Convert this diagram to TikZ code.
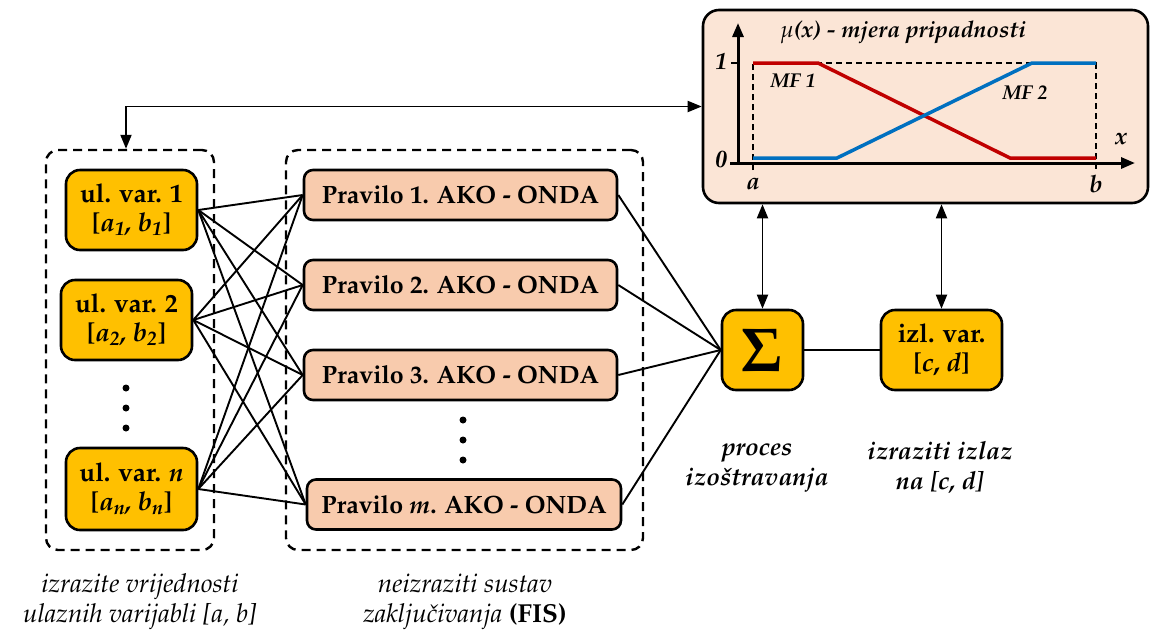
\documentclass[tikz,border=0pt]{standalone}
\usepackage[T1]{fontenc}
\usepackage{mathpazo}
\usetikzlibrary{arrows.meta}
\definecolor{gold}{HTML}{FFC000}
\definecolor{peach}{HTML}{F8CBAD}
\definecolor{lightpeach}{HTML}{FBE5D6}
\definecolor{mfred}{HTML}{C00000}
\definecolor{mfblue}{HTML}{0070C0}
\tikzset{
  dtip/.style={{Triangle[length=14pt,width=11pt]}-{Triangle[length=14pt,width=11pt]}},
  invar/.style={draw, line width=2.6pt, rounded corners=14pt, fill=gold, align=center,
    inner sep=0pt, font=\fontsize{26}{31}\selectfont\bfseries},
  rulebox/.style={draw, line width=2.6pt, rounded corners=9pt, fill=peach, inner sep=0pt,
    minimum height=50pt, font=\fontsize{25}{30}\selectfont\bfseries},
  group/.style={draw, line width=2.4pt, dash pattern=on 9pt off 6pt, rounded corners=12pt, inner sep=0pt},
  conn/.style={line width=1.9pt},
  lbl/.style={align=center, font=\fontsize{26}{30}\selectfont\itshape},
  blbl/.style={align=center, font=\fontsize{25}{30}\selectfont\bfseries\itshape},
  dot/.style={circle, fill=black, inner sep=0pt, minimum size=7pt},
  plt/.style={font=\fontsize{24}{28}\selectfont\bfseries\itshape},
}
\begin{document}
\begin{tikzpicture}[x=1pt,y=-1pt]
\useasboundingbox (0,0) rectangle (1152,633);
% groups
\node[group, minimum width=168pt, minimum height=400pt] (lbox) at (130,350) {};
\node[group, minimum width=357pt, minimum height=400pt] (mbox) at (464.5,350) {};
% membership box
\node[draw, line width=2.6pt, rounded corners=16pt, fill=lightpeach, minimum width=445pt, minimum height=193pt, inner sep=0pt] (mfbox) at (925.5,106.5) {};
% inputs
\node[invar, minimum width=131pt, minimum height=80pt] (in1) at (131.5,210) {ul. var. 1\\[-2pt]{[}\textit{a\textsubscript{1}, b\textsubscript{1}}{]}};
\node[invar, minimum width=131pt, minimum height=80pt] (in2) at (126.5,320) {ul. var. 2\\[-2pt]{[}\textit{a\textsubscript{2}, b\textsubscript{2}}{]}};
\node[invar, minimum width=131pt, minimum height=82pt] (inn) at (131.5,489) {ul. var. \textit{n}\\[-2pt]{[}\textit{a\textsubscript{n}, b\textsubscript{n}}{]}};
\node[dot] (ld1) at (126,388) {};
\node[dot] (ld2) at (126,408) {};
\node[dot] (ld3) at (126,428) {};
% rules
\node[rulebox, minimum width=313pt] (r1) at (460.5,195) {Pravilo 1. AKO - ONDA};
\node[rulebox, minimum width=313pt] (r2) at (460.5,285) {Pravilo 2. AKO - ONDA};
\node[rulebox, minimum width=313pt] (r3) at (460.5,375) {Pravilo 3. AKO - ONDA};
\node[rulebox, minimum width=314pt] (r4) at (464,504.5) {Pravilo \textit{m}. AKO - ONDA};
\node[dot] (md1) at (463,420) {};
\node[dot] (md2) at (463,440) {};
\node[dot] (md3) at (463,460) {};
% sum and output
\node[invar, minimum width=81pt, minimum height=80pt, font=\fontsize{62}{62}\selectfont] (sum) at (762.5,350) {$\mathbf{\Sigma}$};
\node[invar, minimum width=121pt, minimum height=80pt] (out) at (941.5,350) {izl. var.\\[-2pt]{[}\textit{c}, \textit{d}{]}};
% connections
\foreach \i in {in1,in2,inn}{
  \foreach \r in {r1,r2,r3,r4}{
    \draw[conn] (\i.east) -- (\r.west);
  }
}
\foreach \r in {r1,r2,r3,r4}{
  \draw[conn] (\r.east) -- (sum.west);
}
\draw[conn] (sum.east) -- (out.west);
\draw[conn, dtip] (sum.north) -- (sum.north |- mfbox.south);
\draw[conn, dtip] (out.north) -- (out.north |- mfbox.south);
\draw[conn, dtip] ([xshift=-4pt]lbox.north) |- (mfbox.west);
% membership plot
\coordinate (o) at (738,163);
\coordinate (ytop) at (738,23);
\coordinate (xstart) at (730,163);
\coordinate (xend) at (1135,163);
\draw[line width=1.3pt, dash pattern=on 6pt off 4pt] (753,170) -- (753,63) -- (1096,63) -- (1096,170);
\draw[line width=3pt, -{Triangle[length=14pt,width=11pt]}] (o) -- (ytop);
\draw[line width=3pt, -{Triangle[length=14pt,width=11pt]}] (xstart) -- (xend);
\draw[line width=2pt] (731,63) -- (738,63);
\draw[line width=3.5pt, mfred] (753,63) -- (818,63) -- (1010,158) -- (1096,158);
\draw[line width=3.5pt, mfblue] (753,158) -- (837,158) -- (1032,63) -- (1096,63);
\node[plt] (t1) at (721,62) {1};
\node[plt] (t0) at (721,160) {0};
\node[plt] (ta) at (753,184) {a};
\node[plt] (tb) at (1096,184) {b};
\node[plt] (tx) at (1121,139) {x};
\node[font=\fontsize{20}{24}\selectfont\bfseries\itshape] (mf1) at (793,81) {MF 1};
\node[font=\fontsize{20}{24}\selectfont\bfseries\itshape] (mf2) at (1025,93) {MF 2};
\node[font=\fontsize{23}{28}\selectfont\bfseries\itshape] (title) at (903,33) {$\mu$(x) - mjera pripadnosti};
% labels
\node[blbl] (lsum) at (757,468) {proces\\izo\v{s}travanja};
\node[blbl] (lout) at (940,468) {izraziti izlaz\\na [c, d]};
\node[lbl] (lin) at (140,602) {izrazite vrijednosti\\ulaznih varijabli [a, b]};
\node[lbl] (lfis) at (465,602) {neizraziti sustav\\zaklju\v{c}ivanja \textup{\bfseries(FIS)}};
\end{tikzpicture}
\end{document}
